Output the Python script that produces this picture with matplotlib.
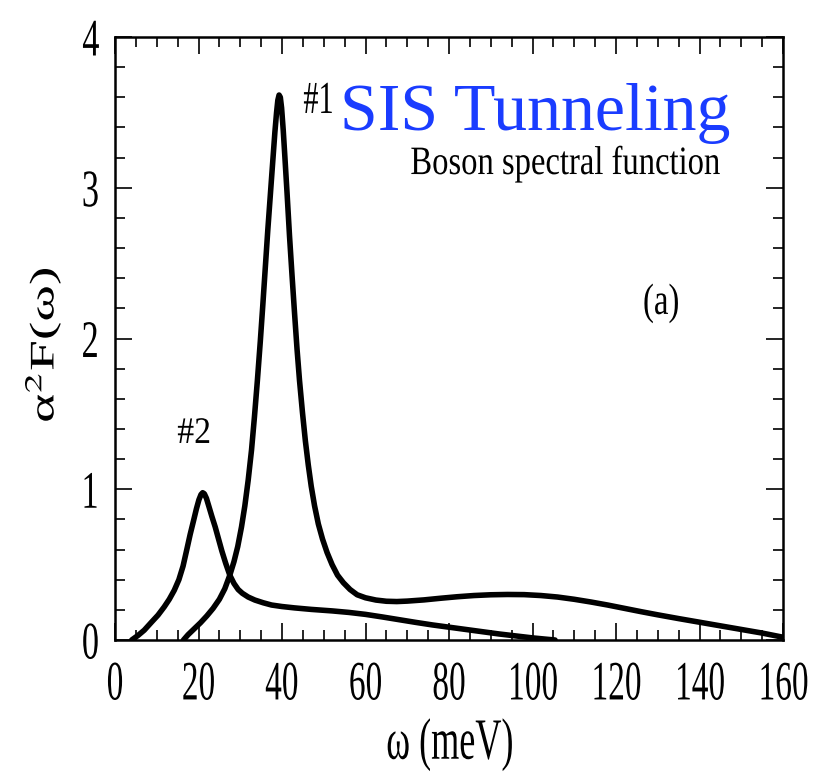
import matplotlib
matplotlib.use("Agg")
import matplotlib.pyplot as plt
from matplotlib.patheffects import AbstractPathEffect
from matplotlib.transforms import Affine2D
from matplotlib.ticker import MultipleLocator

# ---------------- data ----------------
omega_1 = [16.4, 17.5, 19, 20.5, 22, 23.5, 25, 26.3, 27.5, 28.5, 29.4, 30.3, 31.1, 31.9,
           32.7, 33.4, 34.1, 34.8, 35.4, 36.0, 36.6, 37.2, 37.8, 38.3, 38.7, 39.0, 39.3,
           39.6, 39.9, 40.3, 40.7, 41.2, 41.8, 42.4, 43.0, 43.6, 44.2, 44.9, 45.6, 46.3,
           47.0, 47.8, 48.7, 49.7, 50.8, 52.0, 53.3, 54.7, 56.3, 58.0, 60.0, 62.5, 65.0,
           67.5, 70, 74, 78, 82, 86, 90, 94, 98, 102, 106, 110, 114, 118, 122, 126, 130,
           135, 140, 145, 150, 155, 159.7]
a2F_1 = [0.00, 0.035, 0.075, 0.115, 0.16, 0.21, 0.27, 0.34, 0.43, 0.52, 0.62, 0.75, 0.89, 1.06,
         1.26, 1.48, 1.72, 1.98, 2.22, 2.47, 2.72, 2.95, 3.18, 3.37, 3.50, 3.58, 3.615,
         3.60, 3.53, 3.38, 3.20, 2.97, 2.68, 2.42, 2.17, 1.93, 1.72, 1.51, 1.32, 1.16,
         1.02, 0.89, 0.77, 0.67, 0.58, 0.50, 0.43, 0.38, 0.335, 0.30, 0.28, 0.265, 0.257,
         0.255, 0.258, 0.266, 0.277, 0.287, 0.295, 0.30, 0.302, 0.301, 0.295, 0.285, 0.27,
         0.252, 0.232, 0.21, 0.188, 0.167, 0.142, 0.118, 0.094, 0.07, 0.046, 0.02]

omega_2 = [4.0, 5.5, 7.0, 8.8, 10.3, 11.8, 13.0, 14.2, 15.3, 16.3, 17.2, 18.0, 18.8, 19.5,
           20.1, 20.6, 21.0, 21.4, 21.9, 22.5, 23.2, 24.0, 24.8, 25.6, 26.5, 27.5, 28.5,
           29.5, 30.5, 31.9, 33.5, 35.5, 37.5, 40, 43, 47, 52, 56, 60, 64, 68, 72, 76,
           80, 84, 88, 92, 96, 100, 103, 105.4]
a2F_2 = [0.00, 0.03, 0.065, 0.12, 0.165, 0.22, 0.27, 0.33, 0.40, 0.49, 0.60, 0.70, 0.79, 0.87,
         0.93, 0.965, 0.977, 0.97, 0.94, 0.885, 0.82, 0.75, 0.67, 0.59, 0.51, 0.43, 0.375,
         0.335, 0.31, 0.285, 0.265, 0.247, 0.232, 0.222, 0.213, 0.203, 0.193, 0.183, 0.17,
         0.153, 0.135, 0.117, 0.10, 0.085, 0.07, 0.055, 0.04, 0.027, 0.014, 0.006, 0.0]

x_ticks = [0, 20, 40, 60, 80, 100, 120, 140, 160]
y_ticks = [0, 1, 2, 3, 4]
x_label = "ω (meV)"
y_label = "α$^{2}$F(ω)"
title_text = "SIS Tunneling"
subtitle_text = "Boson spectral function"
panel_text = "(a)"
peak_labels = ["#1", "#2"]


# ---------------- horizontal squeeze for condensed serif text ----------------
class Squeeze(AbstractPathEffect):
    def __init__(self, sx=0.62, anchor="center"):
        super().__init__()
        self.sx = sx
        self.anchor = anchor

    def draw_path(self, renderer, gc, tpath, affine, rgbFace=None):
        ext = tpath.get_extents(affine)
        if self.anchor == "left":
            x0 = ext.x0
        elif self.anchor == "right":
            x0 = ext.x1
        else:
            x0 = 0.5 * (ext.x0 + ext.x1)
        aff = affine + Affine2D().translate(-x0, 0).scale(self.sx, 1.0).translate(x0, 0)
        renderer.draw_path(gc, tpath, aff, rgbFace)


plt.rcParams["font.family"] = ["Liberation Serif", "DejaVu Serif"]
plt.rcParams["mathtext.fontset"] = "stix"

fig = plt.figure(figsize=(8.32, 7.77), dpi=100)
ax = fig.add_axes([115 / 832, 1 - 640 / 777, 668 / 832, 603 / 777])

for xs, ys in ((omega_1, a2F_1), (omega_2, a2F_2)):
    ax.plot(xs, ys, color="black", lw=4.0, solid_joinstyle="round",
            solid_capstyle="round")

ax.set_xlim(0, 160)
ax.set_ylim(0, 4)
ax.set_xticks(x_ticks)
ax.set_yticks(y_ticks)
ax.set_xticklabels([str(v) for v in x_ticks])
ax.set_yticklabels([str(v) for v in y_ticks])
ax.xaxis.set_minor_locator(MultipleLocator(5))
ax.yaxis.set_minor_locator(MultipleLocator(0.2))
ax.tick_params(which="both", direction="in", top=True, right=True, width=1.2,
               color="black")
ax.tick_params(which="major", length=12)
ax.tick_params(which="minor", length=7)
ax.tick_params(axis="x", which="major", labelsize=40, pad=14)
ax.tick_params(axis="y", which="major", labelsize=38, pad=11)
for s in ax.spines.values():
    s.set_linewidth(1.8)

for lab in ax.get_xticklabels():
    lab.set_path_effects([Squeeze(0.6, "center")])
for lab in ax.get_yticklabels():
    lab.set_path_effects([Squeeze(0.65, "right")])

xl = ax.set_xlabel(x_label, fontsize=42, va="center", ha="center")
xl.set_path_effects([Squeeze(0.62, "center")])
ax.xaxis.set_label_coords(0.5015, -0.174)

yl = ax.set_ylabel(y_label, fontsize=40, va="center", ha="center")
yl.set_path_effects([Squeeze(0.62, "center")])
ax.yaxis.set_label_coords((43 - 115) / 668, (640 - 345) / 603)

t1 = ax.text(52.6, 3.496, peak_labels[0], fontsize=33, ha="right", va="baseline")
t1.set_path_effects([Squeeze(0.66, "right")])
t2 = ax.text(14.9, 1.307, peak_labels[1], fontsize=27, ha="left", va="baseline")
t2.set_path_effects([Squeeze(0.9, "left")])
ax.text(53.9, 3.383, title_text, fontsize=49, color="#1a3cff", ha="left", va="baseline")
t3 = ax.text(70.7, 3.091, subtitle_text, fontsize=29, ha="left", va="baseline")
t3.set_path_effects([Squeeze(0.81, "left")])
t4 = ax.text(130.8, 2.163, panel_text, fontsize=31.5, ha="center", va="baseline")
t4.set_path_effects([Squeeze(0.75, "center")])

fig.savefig("out.png", dpi=100)
